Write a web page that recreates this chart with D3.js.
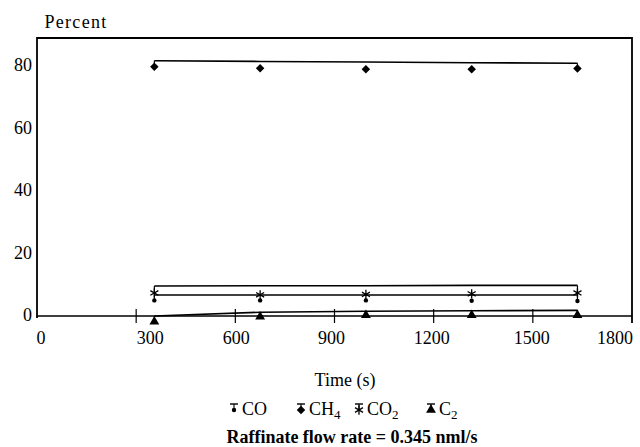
<!DOCTYPE html>
<meta charset="utf-8">
<script src="https://d3js.org/d3.v7.min.js"></script>
<body style="margin:0;background:#fff">
<svg id="chart" width="640" height="447"></svg>
<script>

// sample times (s)
const times = [355, 675, 995, 1315, 1635];

// measured gas composition (percent)
const ch4 = [79.8, 79.3, 79.0, 79.0, 79.2];
const co2 = [7.4, 6.8, 6.9, 7.1, 7.4];
const co  = [5.0, 5.0, 5.0, 4.9, 4.8];
const c2  = [-1.8, -0.2, 0.3, 0.3, 0.3];

// fitted curves (percent), at the same times
const ch4Fit = [81.7, 81.5, 81.3, 81.1, 80.9];
const co2Fit = [9.6, 9.7, 9.7, 9.8, 9.8];
const coFit  = [6.7, 6.7, 6.7, 6.7, 6.7];
const c2Fit  = [0.0, 1.2, 1.5, 1.7, 1.8];

const xTicks = [0, 300, 600, 900, 1200, 1500, 1800];
const yTicks = [0, 20, 40, 60, 80];

const svg = d3.select("#chart");
const serif = "'Liberation Serif', 'DejaVu Serif', serif";

const x = d3.scaleLinear().domain([0, 1800]).range([37, 632]);
const y = d3.scaleLinear().domain([0, 89]).range([316, 38]);

const series = [
  {name: "CO",  sub: "",  vals: co,  fit: coFit,  sym: "dot"},
  {name: "CH",  sub: "4", vals: ch4, fit: ch4Fit, sym: "diamond"},
  {name: "CO",  sub: "2", vals: co2, fit: co2Fit, sym: "star"},
  {name: "C",   sub: "2", vals: c2,  fit: c2Fit,  sym: "triangle"}
];

function marker(g, sym, cx, cy) {
  if (sym === "dot") {
    g.append("circle").attr("cx", cx).attr("cy", cy).attr("r", 2.2).attr("fill", "#000");
  } else if (sym === "diamond") {
    g.append("path").attr("d", d3.symbol(d3.symbolSquare, 36)())
      .attr("transform", `translate(${cx},${cy}) rotate(45)`).attr("fill", "#000");
  } else if (sym === "star") {
    g.append("path").attr("d", d3.symbol(d3.symbolAsterisk, 60)())
      .attr("transform", `translate(${cx},${cy})`)
      .attr("fill", "none").attr("stroke", "#000").attr("stroke-width", 1.3);
  } else {
    g.append("path").attr("d", d3.symbol(d3.symbolTriangle, 42)())
      .attr("transform", `translate(${cx},${cy})`).attr("fill", "#000");
  }
}

// frame
svg.append("path")
  .attr("d", `M${x(0)},${y(0) + 2}V${y.range()[1]}H${x(1800)}V${y(0) + 7}`)
  .attr("fill", "none").attr("stroke", "#000").attr("stroke-width", 1.8);
svg.append("line")
  .attr("x1", x(0)).attr("x2", x(1800)).attr("y1", y(0)).attr("y2", y(0))
  .attr("stroke", "#000").attr("stroke-width", 1.6);

// x ticks crossing the axis line
svg.append("g").selectAll("line")
  .data(xTicks.filter(d => d > 0 && d < 1800))
  .join("line")
    .attr("x1", d => x(d)).attr("x2", d => x(d))
    .attr("y1", y(0) - 7).attr("y2", y(0) + 7)
    .attr("stroke", "#000").attr("stroke-width", 1.2);

const nudge = {0: 4, 300: 14, 600: 1, 900: -3, 1200: -2, 1500: -1, 1800: -17};
svg.append("g").selectAll("text")
  .data(xTicks)
  .join("text")
    .attr("x", d => x(d) + nudge[d])
    .attr("y", 344)
    .attr("text-anchor", "middle")
    .attr("font-family", serif).attr("font-size", 18)
    .text(d => d);

svg.append("g").selectAll("text")
  .data(yTicks)
  .join("text")
    .attr("x", 32)
    .attr("y", d => y(d) + 5)
    .attr("text-anchor", "end")
    .attr("font-family", serif).attr("font-size", 18)
    .text(d => d);

svg.append("text").attr("x", 76).attr("y", 28)
  .attr("text-anchor", "middle")
  .attr("font-family", serif).attr("font-size", 18)
  .attr("letter-spacing", 1.3).text("Percent");

svg.append("text").attr("x", 345).attr("y", 386)
  .attr("text-anchor", "middle")
  .attr("font-family", serif).attr("font-size", 18)
  .text("Time (s)");

svg.append("text").attr("x", 352).attr("y", 443)
  .attr("text-anchor", "middle")
  .attr("font-family", serif).attr("font-size", 18).attr("font-weight", "bold")
  .text("Raffinate flow rate = 0.345 nml/s");

// fitted lines with end caps, then data markers
const line = d3.line().x(d => x(d[0])).y(d => y(d[1]));
series.forEach(s => {
  const g = svg.append("g");
  g.append("path")
    .attr("d", line(times.map((t, i) => [t, s.fit[i]])))
    .attr("fill", "none").attr("stroke", "#000").attr("stroke-width", 1.6);
  [0, times.length - 1].forEach(i => {
    g.append("line")
      .attr("x1", x(times[i])).attr("x2", x(times[i]))
      .attr("y1", y(s.fit[i])).attr("y2", y(s.vals[i]))
      .attr("stroke", "#000").attr("stroke-width", 1.2);
  });
  times.forEach((t, i) => marker(g, s.sym, x(t), y(s.vals[i])));
});

// legend
const legX = [234, 301, 359, 431];
const legY = 409;
series.forEach((s, i) => {
  const g = svg.append("g");
  const cx = legX[i];
  g.append("line").attr("x1", cx - 4).attr("x2", cx + 4)
    .attr("y1", legY - 5).attr("y2", legY - 5).attr("stroke", "#000").attr("stroke-width", 1.4);
  g.append("line").attr("x1", cx).attr("x2", cx)
    .attr("y1", legY - 5).attr("y2", legY + 1).attr("stroke", "#000").attr("stroke-width", 1.1);
  marker(g, s.sym, cx, legY + 1);
  const t = g.append("text").attr("x", cx + 8).attr("y", legY + 6)
    .attr("font-family", serif).attr("font-size", 18).text(s.name);
  if (s.sub) t.append("tspan").attr("dy", 4).attr("font-size", 13).text(s.sub);
});

</script>
</body>
